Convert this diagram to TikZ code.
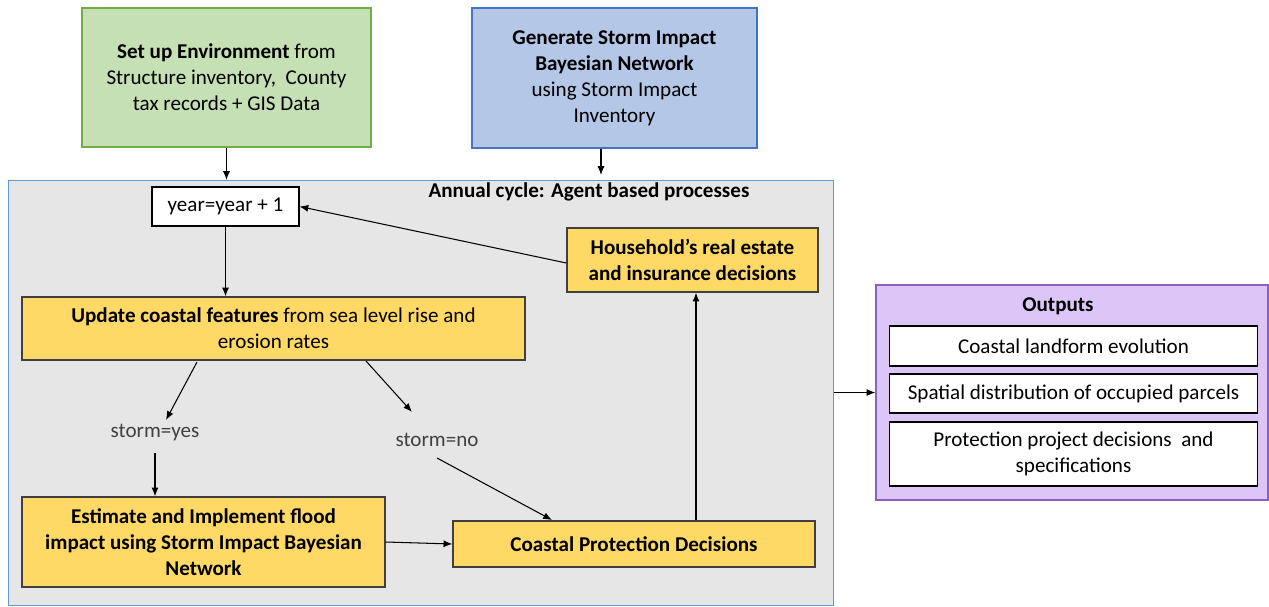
\documentclass[tikz,border=0pt]{standalone}
\usepackage{fontspec}
\setmainfont{Carlito}
\usetikzlibrary{positioning, arrows.meta}
\definecolor{envgreen}{HTML}{C5E0B4}
\definecolor{envgreenline}{HTML}{70AD47}
\definecolor{bnblue}{HTML}{B4C7E7}
\definecolor{bnblueline}{HTML}{4472C4}
\definecolor{cyclegray}{HTML}{E7E6E6}
\definecolor{cycleline}{HTML}{5B9BD5}
\definecolor{procyellow}{HTML}{FFD966}
\definecolor{procline}{HTML}{404040}
\definecolor{outlilac}{HTML}{DCC6F8}
\definecolor{outline}{HTML}{8F5FC0}
\tikzset{
every node/.style={font=\fontsize{12}{14.8}\selectfont, align=center, inner sep=0pt},
inbox/.style={draw, line width=0.8pt, minimum width=5.78cm, minimum height=2.78cm},
procbox/.style={draw=procline, fill=procyellow, line width=0.8pt},
plainbox/.style={draw, fill=white, line width=0.6pt},
label/.style={text=black!75},
arr/.style={-{Latex[length=5pt,width=4pt]}, line width=0.6pt},
}

\begin{document}
\begin{tikzpicture}[x=0.02cm, y=-0.02cm]
    \useasboundingbox (0,0) rectangle (1269,606);

    %input boxes
    \node[inbox, draw=envgreenline, fill=envgreen] (env) at (226.5,77.5)
        {\textbf{Set up Environment} from\\ Structure inventory,~ County\\ tax records + GIS Data};
    \node[inbox, draw=bnblueline, fill=bnblue, minimum width=5.7cm, minimum height=2.8cm] (bn) at (614.5,78)
        {\textbf{Generate Storm Impact}\\ \textbf{Bayesian Network}\\ using Storm Impact\\ Inventory};

    %annual cycle frame
    \node[draw=cycleline, fill=cyclegray, line width=0.6pt, minimum width=16.52cm, minimum height=8.5cm] (cycle) at (421,393) { };
    \node (title) at (589,192) {\textbf{Annual cycle: Agent based processes}};

    %nodes inside the cycle
    \node[plainbox, minimum width=2.94cm, minimum height=0.78cm] (year) at (225.5,206.5) {year=year + 1};
    \node[procbox, minimum width=5.02cm, minimum height=1.28cm] (house) at (692.5,260)
        {\textbf{Household's real estate}\\ \textbf{and insurance decisions}};
    \node[procbox, minimum width=10.06cm, minimum height=1.26cm] (update) at (273.5,328.5)
        {\textbf{Update coastal features} from sea level rise and\\ erosion rates};
    \node[label] (yes) at (155,433) {storm=yes};
    \node[label] (no) at (437,440) {storm=no};
    \node[procbox, minimum width=7.26cm, minimum height=1.8cm] (flood) at (203.5,542)
        {\textbf{Estimate and Implement flood}\\ \textbf{impact using Storm Impact Bayesian}\\ \textbf{Network}};
    \node[procbox, minimum width=7.24cm, minimum height=0.92cm] (protect) at (634,544)
        {\textbf{Coastal Protection Decisions}};

    %outputs
    \node[draw=outline, fill=outlilac, line width=0.8pt, minimum width=7.84cm, minimum height=4.3cm] (out) at (1072,392.5) { };
    \node (outtitle) at (1058,306) {\textbf{Outputs}};
    \node[plainbox, minimum width=7.38cm, minimum height=0.8cm] (o1) at (1073.5,346) {Coastal landform evolution};
    \node[plainbox, minimum width=7.38cm, minimum height=0.78cm] (o2) at (1073.5,393.5) {Spatial distribution of occupied parcels};
    \node[plainbox, minimum width=7.38cm, minimum height=1.28cm] (o3) at (1073.5,454) {Protection project decisions~ and\\ specifications};

    %helper points
    \coordinate (bnin) at (601,175);
    \coordinate (upleft) at (197,362);
    \coordinate (upright) at (366,361);
    \coordinate (yestop) at (166,420);
    \coordinate (notop) at (412,412);
    \coordinate (yesbot) at (155,453);
    \coordinate (nobot) at (437,458);
    \coordinate (protin) at (552,520);
    \coordinate (uparrow) at (696,520);

    %arrows into the cycle
    \draw[arr] (env.south) -- (cycle.north -| env.south);
    \draw[arr] (bn.south -| bnin) -- (bnin);

    %arrows inside the cycle
    \draw[arr] (year.south) -- (update.north -| year.south);
    \draw[arr] (house.west |- 0,263) -- (year.east);
    \draw[arr] (upleft) -- (yestop);
    \draw[arr] (upright) -- (notop);
    \draw[arr] (yesbot) -- (flood.north -| yesbot);
    \draw[arr] (nobot) -- (protin);
    \draw[arr] (flood.east) -- (protect.west);
    \draw[arr] (uparrow) -- (house.south -| uparrow);

    %arrow to outputs
    \draw[arr] (cycle.east |- out.west) -- (out.west);
\end{tikzpicture}
\end{document}
